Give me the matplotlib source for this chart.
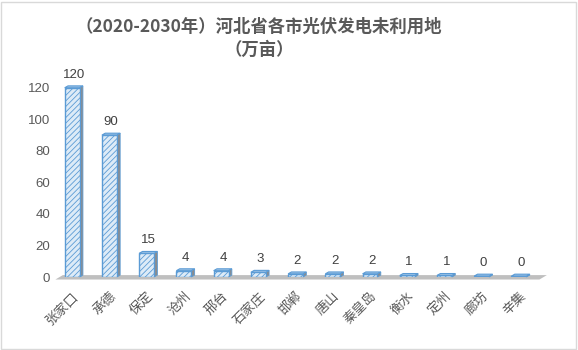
import matplotlib
matplotlib.use("Agg")
import matplotlib.pyplot as plt
from matplotlib.patches import Rectangle, Polygon

plt.rcParams['font.family'] = ['Noto Sans CJK SC', 'DejaVu Sans']
plt.rcParams['hatch.linewidth'] = 0.6

# 各市光伏发电未利用地（万亩）
cities = ['张家口', '承德', '保定', '沧州', '邢台', '石家庄', '邯郸',
          '唐山', '秦皇岛', '衡水', '定州', '廊坊', '辛集']
area = [120, 90, 15, 4, 4, 3, 2, 2, 2, 1, 1, 0, 0]

blue = '#5B9BD5'
face = '#DDEBF7'
side = '#8C8C8C'
txt = '#595959'

fig = plt.figure(figsize=(5.78, 3.5), dpi=100)
ax = fig.add_axes([55 / 578, 73 / 350, 490 / 578, 205 / 350])

xs = list(range(len(cities)))
w = 0.40
d = 0.09      # depth of the side face
lift = 1.2    # top face slant

# gray floor under the bars
floor = Polygon([(-0.45, -1.6), (12.55, -1.6), (12.75, 1.2), (-0.25, 1.2)],
                closed=True, facecolor='#BFBFBF', edgecolor='none',
                clip_on=False, zorder=1)
ax.add_patch(floor)

bars = ax.bar(xs, area, width=w, color=face, edgecolor=blue, hatch='//////',
              linewidth=1.0, zorder=3)
for x, v in zip(xs, area):
    h = max(v, 0.6)
    # side face
    ax.add_patch(Polygon([(x + w / 2, 0), (x + w / 2 + d, lift),
                          (x + w / 2 + d, h + lift), (x + w / 2, h)],
                         closed=True, facecolor=side, edgecolor=blue,
                         linewidth=0.6, zorder=2, clip_on=False))
    # top face
    ax.add_patch(Polygon([(x - w / 2, h), (x + w / 2, h),
                          (x + w / 2 + d, h + lift), (x - w / 2 + d, h + lift)],
                         closed=True, facecolor='#9DC3E6', edgecolor=blue,
                         linewidth=0.8, zorder=4, clip_on=False))
    if v == 0:
        ax.add_patch(Rectangle((x - w / 2, 0), w, h, facecolor=face,
                               edgecolor=blue, hatch='//////', linewidth=1.0,
                               zorder=3))
    ax.text(x + 0.05, h + 4.5, str(v), ha='center', va='bottom',
            fontsize=9.5, color='#404040', family=['Liberation Sans', 'DejaVu Sans'])

ax.set_xlim(-0.46, 12.7)
ax.set_ylim(0, 130)
ax.set_yticks(range(0, 121, 20))
ax.set_yticklabels([str(t) for t in range(0, 121, 20)],
                   family=['Liberation Sans', 'DejaVu Sans'])
ax.set_xticks(xs)
ax.set_xticklabels(cities, rotation=45, ha='right', rotation_mode='anchor',
                   fontsize=11.5, color=txt, fontweight='light')
ax.tick_params(axis='both', length=0, colors=txt, labelsize=9.5)
ax.tick_params(axis='x', pad=9)
for s in ax.spines.values():
    s.set_visible(False)
ax.patch.set_alpha(0)

fig.text(259 / 578, 1 - 27 / 350, '（2020-2030年）河北省各市光伏发电未利用地',
         ha='center', va='center', fontsize=12.5, fontweight='bold', color=txt)
fig.text(259 / 578, 1 - 50 / 350, '（万亩）',
         ha='center', va='center', fontsize=12.5, fontweight='bold', color=txt)

fig.patches.append(Rectangle((1 / 578, 1 / 350), 575 / 578, 347 / 350,
                             transform=fig.transFigure, fill=False,
                             edgecolor='#D9D9D9', linewidth=1))

fig.savefig('out.png', dpi=100)
